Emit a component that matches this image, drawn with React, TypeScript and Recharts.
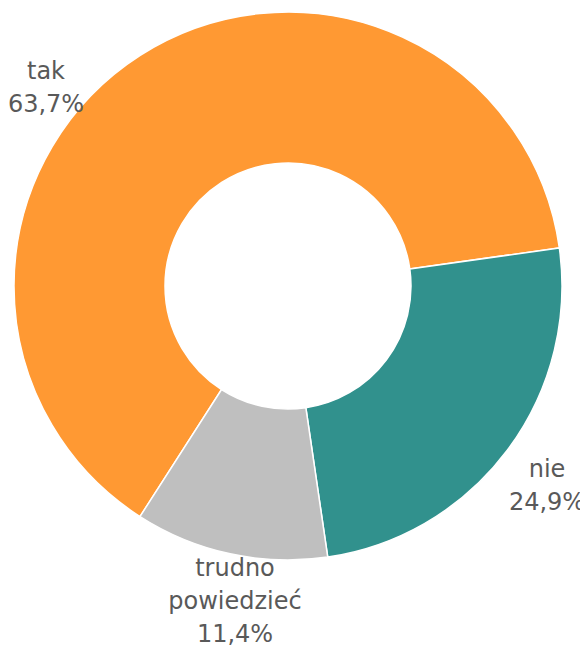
import { PieChart, Pie, Cell } from 'recharts';

const categories = ['tak', 'nie', 'trudno powiedzieć'];
const labelLines = [['tak'], ['nie'], ['trudno', 'powiedzieć']];
const values = [63.7, 24.9, 11.4];
const colors = ['#FF9933', '#31918D', '#BFBFBF'];

// label anchor offsets from the pie centre (first baseline)
const labelOffsets = [
  { dx: -242, dy: -207 },
  { dx: 259, dy: 191 },
  { dx: -53, dy: 290 },
];

const chartData = categories.map((name, i) => ({ name, value: values[i] }));

const fmt = (v: number) => v.toFixed(1).replace('.', ',') + '%';

const renderLabel = (props: any) => {
  const { cx, cy, index } = props;
  const off = labelOffsets[index];
  const lines = [...labelLines[index], fmt(values[index])];
  return (
    <text
      x={cx + off.dx}
      y={cy + off.dy}
      textAnchor="middle"
      fill="#595959"
      fontSize={24}
      fontFamily="DejaVu Sans, sans-serif"
    >
      {lines.map((l, i) => (
        <tspan key={i} x={cx + off.dx} y={cy + off.dy + i * 33}>
          {l}
        </tspan>
      ))}
    </text>
  );
};

export default function App() {
  return (
    <PieChart
      width={580}
      height={642}
      margin={{ top: 0, right: 0, bottom: 0, left: 0 }}
      style={{ overflow: 'visible' }}
    >
      <Pie
        data={chartData}
        dataKey="value"
        nameKey="name"
        cx={280}
        cy={278}
        innerRadius={123}
        outerRadius={274}
        startAngle={237.3}
        endAngle={-122.7}
        stroke="#ffffff"
        strokeWidth={1.5}
        label={renderLabel}
        labelLine={false}
        isAnimationActive={false}
      >
        {chartData.map((d, i) => (
          <Cell key={d.name} fill={colors[i]} />
        ))}
      </Pie>
    </PieChart>
  );
}
